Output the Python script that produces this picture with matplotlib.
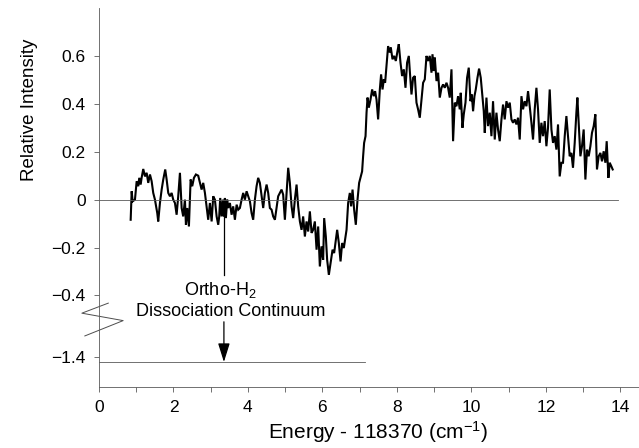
import matplotlib
matplotlib.use("Agg")
import matplotlib.pyplot as plt
import numpy as np

plt.rcParams["font.family"] = ["Liberation Sans", "DejaVu Sans"]
plt.rcParams["mathtext.fontset"] = "custom"
plt.rcParams["mathtext.rm"] = "Liberation Sans"
plt.rcParams["mathtext.it"] = "Liberation Sans:italic"

# spectrum (energy offset in cm^-1, relative intensity)
energy = [
    0.851, 0.878, 0.904, 0.966, 1.012, 1.055, 1.082, 1.119, 1.146, 1.189, 1.235, 1.280,
    1.323, 1.369, 1.414, 1.457, 1.503, 1.565, 1.591, 1.637, 1.683, 1.726, 1.779, 1.817,
    1.860, 1.906, 1.951, 1.994, 2.040, 2.085, 2.128, 2.174, 2.220, 2.262, 2.308, 2.335,
    2.370, 2.415, 2.461, 2.504, 2.550, 2.603, 2.665, 2.711, 2.756, 2.799, 2.845, 2.890,
    2.933, 2.979, 3.025, 3.068, 3.113, 3.159, 3.202, 3.229, 3.256, 3.293, 3.328, 3.355,
    3.382, 3.408, 3.443, 3.470, 3.516, 3.561, 3.604, 3.650, 3.696, 3.739, 3.784, 3.830,
    3.873, 3.918, 3.964, 4.007, 4.053, 4.098, 4.141, 4.187, 4.232, 4.275, 4.321, 4.367,
    4.410, 4.455, 4.501, 4.544, 4.589, 4.635, 4.678, 4.724, 4.769, 4.812, 4.858, 4.903,
    4.946, 4.992, 5.038, 5.081, 5.126, 5.172, 5.215, 5.260, 5.306, 5.349, 5.395, 5.440,
    5.483, 5.529, 5.574, 5.617, 5.663, 5.709, 5.751, 5.797, 5.843, 5.886, 5.931, 5.977,
    6.020, 6.047, 6.092, 6.127, 6.173, 6.218, 6.272, 6.315, 6.361, 6.396, 6.441, 6.487,
    6.530, 6.575, 6.610, 6.648, 6.691, 6.736, 6.771, 6.809, 6.852, 6.897, 6.943, 6.986,
    7.032, 7.066, 7.093, 7.120, 7.158, 7.185, 7.212, 7.246, 7.292, 7.335, 7.380, 7.415,
    7.453, 7.496, 7.542, 7.576, 7.614, 7.649, 7.684, 7.721, 7.764, 7.810, 7.837, 7.882,
    7.925, 7.971, 8.017, 8.051, 8.097, 8.140, 8.186, 8.231, 8.274, 8.320, 8.347, 8.392,
    8.435, 8.481, 8.526, 8.569, 8.615, 8.661, 8.704, 8.749, 8.795, 8.838, 8.883, 8.929,
    8.956, 8.991, 9.018, 9.064, 9.107, 9.152, 9.198, 9.241, 9.286, 9.332, 9.375, 9.420,
    9.466, 9.509, 9.554, 9.600, 9.643, 9.688, 9.715, 9.761, 9.796, 9.842, 9.885, 9.930,
    9.976, 10.011, 10.046, 10.083, 10.118, 10.164, 10.207, 10.252, 10.298, 10.333, 10.360, 10.405,
    10.448, 10.494, 10.539, 10.582, 10.628, 10.673, 10.716, 10.762, 10.808, 10.851, 10.896, 10.942,
    10.985, 11.031, 11.076, 11.119, 11.165, 11.210, 11.253, 11.299, 11.345, 11.388, 11.433, 11.479,
    11.522, 11.567, 11.613, 11.656, 11.701, 11.747, 11.790, 11.836, 11.881, 11.924, 11.970, 12.015,
    12.058, 12.104, 12.150, 12.193, 12.238, 12.284, 12.327, 12.372, 12.418, 12.461, 12.507, 12.552,
    12.595, 12.641, 12.686, 12.729, 12.775, 12.820, 12.847, 12.890, 12.928, 12.971, 13.016, 13.062,
    13.105, 13.151, 13.196, 13.239, 13.285, 13.330, 13.373, 13.419, 13.465, 13.508, 13.553, 13.599,
    13.634, 13.680, 13.715, 13.760, 13.795,
]
intensity = [
    -0.084, 0.035, -0.007, 0.000, 0.077, 0.056, 0.091, 0.063, 0.092, 0.128, 0.097, 0.112,
    0.070, 0.105, 0.077, 0.028, 0.000, -0.056, -0.091, -0.014, 0.042, 0.084, 0.126, 0.084,
    0.028, 0.014, 0.028, 0.000, -0.014, -0.063, 0.014, 0.112, -0.035, -0.070, 0.000, -0.105,
    -0.035, -0.112, 0.084, 0.056, 0.091, 0.105, 0.100, 0.070, 0.042, 0.070, 0.028, -0.028,
    -0.084, -0.014, -0.091, 0.014, 0.000, -0.070, -0.105, -0.070, 0.007, -0.070, 0.000, -0.070,
    0.007, -0.077, 0.000, -0.035, -0.014, -0.063, -0.028, -0.084, -0.021, -0.042, -0.035, 0.000,
    0.028, 0.000, 0.035, 0.014, -0.007, -0.056, -0.084, 0.000, 0.056, 0.091, 0.070, 0.014,
    -0.035, 0.028, 0.063, 0.028, -0.035, -0.042, -0.070, -0.084, -0.035, 0.014, 0.028, 0.042,
    0.021, -0.084, 0.028, 0.133, 0.070, -0.028, -0.077, 0.000, 0.063, -0.028, -0.091, -0.126,
    -0.070, -0.154, -0.091, -0.133, -0.049, -0.139, -0.126, -0.091, -0.209, -0.112, -0.279, -0.195,
    -0.251, -0.077, -0.154, -0.251, -0.314, -0.265, -0.209, -0.223, -0.167, -0.126, -0.181, -0.258,
    -0.181, -0.202, -0.167, -0.126, -0.014, 0.028, -0.028, 0.042, -0.042, -0.105, 0.000, 0.070,
    0.097, 0.118, 0.181, 0.237, 0.265, 0.363, 0.426, 0.384, 0.418, 0.460, 0.432, 0.453,
    0.418, 0.335, 0.460, 0.523, 0.460, 0.502, 0.488, 0.558, 0.641, 0.614, 0.635, 0.586,
    0.600, 0.579, 0.621, 0.649, 0.572, 0.516, 0.544, 0.467, 0.572, 0.600, 0.537, 0.439,
    0.509, 0.516, 0.405, 0.377, 0.342, 0.418, 0.488, 0.502, 0.600, 0.579, 0.600, 0.530,
    0.607, 0.537, 0.593, 0.495, 0.530, 0.426, 0.467, 0.481, 0.467, 0.488, 0.467, 0.426,
    0.544, 0.244, 0.405, 0.390, 0.432, 0.377, 0.446, 0.300, 0.356, 0.405, 0.509, 0.551,
    0.411, 0.439, 0.369, 0.432, 0.460, 0.509, 0.547, 0.509, 0.432, 0.369, 0.279, 0.426,
    0.307, 0.363, 0.265, 0.411, 0.251, 0.363, 0.293, 0.244, 0.335, 0.397, 0.335, 0.411,
    0.384, 0.405, 0.335, 0.321, 0.335, 0.314, 0.342, 0.251, 0.432, 0.377, 0.411, 0.390,
    0.453, 0.390, 0.321, 0.251, 0.377, 0.467, 0.377, 0.237, 0.321, 0.265, 0.328, 0.223,
    0.300, 0.460, 0.293, 0.237, 0.265, 0.209, 0.314, 0.097, 0.154, 0.154, 0.265, 0.349,
    0.265, 0.181, 0.195, 0.133, 0.237, 0.363, 0.426, 0.293, 0.181, 0.223, 0.293, 0.084,
    0.209, 0.181, 0.223, 0.279, 0.307, 0.356, 0.126, 0.181, 0.195, 0.160, 0.202, 0.154,
    0.244, 0.091, 0.154, 0.139, 0.126,
]

# broken y axis: values below the break are drawn shifted up by BREAK_SHIFT
BREAK_SHIFT = 0.742
ytick_vals = [-1.4, -0.4, -0.2, 0.0, 0.2, 0.4, 0.6]
ytick_labels = ["\u22121.4", "\u22120.4", "\u22120.2", "0", "0.2", "0.4", "0.6"]
xtick_major = [0, 2, 4, 6, 8, 10, 12, 14]
continuum_level = -1.42   # ortho-H2 dissociation continuum
continuum_energy = 3.355
continuum_line_end = 7.14
zero_line_end = 13.93


def _disp(v):
    return v + BREAK_SHIFT if v < -1.0 else v


fig = plt.figure(figsize=(6.39, 4.48), dpi=100)
ax = fig.add_axes([0.1549, 0.1368, 0.845, 0.8453])

ax.plot(energy, intensity, color="black", lw=1.5, solid_joinstyle="miter")
ax.plot([0, zero_line_end], [0, 0], color="0.35", lw=0.6)
cy = _disp(continuum_level)
ax.plot([0, continuum_line_end], [cy, cy], color="0.35", lw=0.6)

# arrow from the trace down to the continuum line
ax.plot([continuum_energy, continuum_energy], [-0.071, -0.314], color="black", lw=0.9)
ax.annotate("", xy=(continuum_energy, cy), xytext=(continuum_energy, -0.51),
            arrowprops=dict(arrowstyle="-|>,head_length=1.15,head_width=0.36",
                            mutation_scale=10, color="black", lw=0.9,
                            shrinkA=0, shrinkB=0))
ax.text(3.27, -0.379, "Ortho-H$_2$", ha="center", va="center", fontsize=13)
ax.text(3.54, -0.467, "Dissociation Continuum", ha="center", va="center", fontsize=13)

# zigzag break mark on the y axis
ax.plot([0.25, -0.46, 0.65, -0.38], [-0.432, -0.474, -0.505, -0.569],
        color="0.3", lw=0.7, clip_on=False)

ax.set_xlim(0, 14.5)
ax.set_ylim(-0.781, 0.80)
ax.set_xticks(xtick_major)
ax.set_xticks(range(1, 15, 2), minor=True)
ax.set_yticks([_disp(v) for v in ytick_vals])
ax.set_yticklabels(ytick_labels)

for s in ["top", "right"]:
    ax.spines[s].set_visible(False)
for s in ["left", "bottom"]:
    ax.spines[s].set_linewidth(0.6)
    ax.spines[s].set_color("0.35")
ax.tick_params(axis="both", which="both", direction="out", length=3.5, width=0.6,
               color="0.35", labelsize=12.5, pad=6)

ax.set_xlabel("Energy - 118370 (cm$^{-1}$)", fontsize=15, va="center")
ax.xaxis.set_label_coords(0.516, -0.119)
ax.set_ylabel("Relative Intensity", fontsize=13.5, va="center", ha="center")
ax.yaxis.set_label_coords(-0.128, 0.731)

fig.savefig("out.png", dpi=100)
